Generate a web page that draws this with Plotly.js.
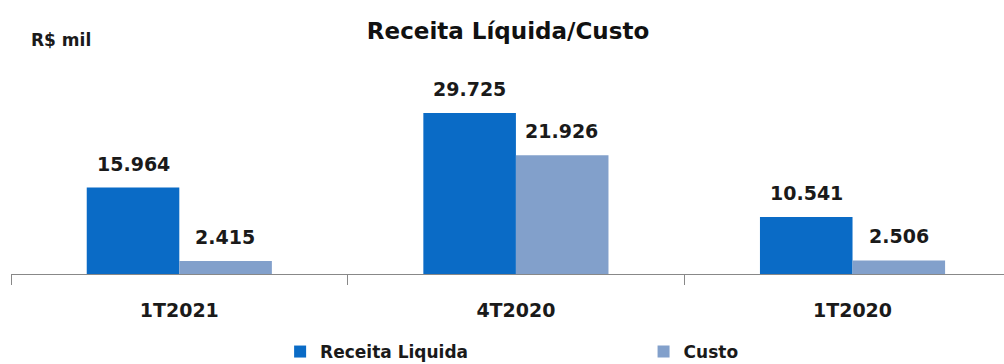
<!DOCTYPE html>
<html><head><meta charset="utf-8">
<script src="https://cdn.plot.ly/plotly-3.0.1.min.js"></script>
<style>html,body{margin:0;padding:0;background:#fff;}#chart{width:1004px;height:364px;}</style>
</head><body><div id="chart"></div>
<script>
const categories = ['1T2021', '4T2020', '1T2020'];
const receita = [15964, 29725, 10541];
const custo = [2415, 21926, 2506];
const seriesNames = ['Receita Liquida', 'Custo'];

function fmt(v){ return String(v).replace(/\B(?=(\d{3})+(?!\d))/g, '.'); }

const FONT = '"DejaVu Sans", sans-serif';
const traces = [
  {type:'bar', name:seriesNames[0], x:categories, y:receita, marker:{color:'#0a6bc6'}, hoverinfo:'none', legend:'legend'},
  {type:'bar', name:seriesNames[1], x:categories, y:custo, marker:{color:'#82a0cb'}, hoverinfo:'none', legend:'legend2'}
];
const labelFont = {family:FONT, size:19, color:'#1a1a1a', weight:'bold'};
const annotations = [];
categories.forEach((c,i)=>{
  annotations.push({x:c, y:receita[i], xref:'x', yref:'y', text:fmt(receita[i]), showarrow:false, xshift:-46, yshift:24, yanchor:'middle', font:labelFont});
  annotations.push({x:c, y:custo[i], xref:'x', yref:'y', text:fmt(custo[i]), showarrow:false, xshift:46, yshift:24, yanchor:'middle', font:labelFont});
});
annotations.push({xref:'paper', yref:'paper', x:0, y:1.0, xanchor:'left', yanchor:'middle', text:'R$ mil', showarrow:false, yshift:20, xshift:18, font:{family:FONT, size:17, color:'#1a1a1a', weight:'bold'}});

const legendFont = {family:FONT, size:17, color:'#1a1a1a', weight:'bold'};
const layout = {
  width:1004, height:364,
  margin:{l:11, r:0, t:60, b:90},
  paper_bgcolor:'#fff', plot_bgcolor:'#fff',
  title:{text:'Receita Líquida/Custo', x:0.506, xanchor:'center', y:0.915, yanchor:'middle', font:{family:FONT, size:23, color:'#111', weight:'bold'}},
  barmode:'group', bargap:0.45, bargroupgap:0,
  xaxis:{type:'category', range:[-0.5, 2.45], showline:true, linecolor:'#888', linewidth:1, ticks:'outside', tickson:'boundaries', ticklen:10, tickcolor:'#888', ticklabelstandoff:19, tickfont:{family:FONT, size:19, color:'#1a1a1a', weight:'bold'}, showgrid:false, fixedrange:true, automargin:false},
  yaxis:{range:[0, 39500], visible:false, showgrid:false, zeroline:false, fixedrange:true},
  showlegend:true,
  legend:{orientation:'h', xref:'container', yref:'container', x:0.279, xanchor:'left', y:0.033, yanchor:'middle', font:legendFont, bgcolor:'rgba(0,0,0,0)'},
  legend2:{orientation:'h', xref:'container', yref:'container', x:0.641, xanchor:'left', y:0.033, yanchor:'middle', font:legendFont, bgcolor:'rgba(0,0,0,0)'},
  annotations:annotations
};
Plotly.newPlot('chart', traces, layout, {displayModeBar:false, staticPlot:true});
</script></body></html>
